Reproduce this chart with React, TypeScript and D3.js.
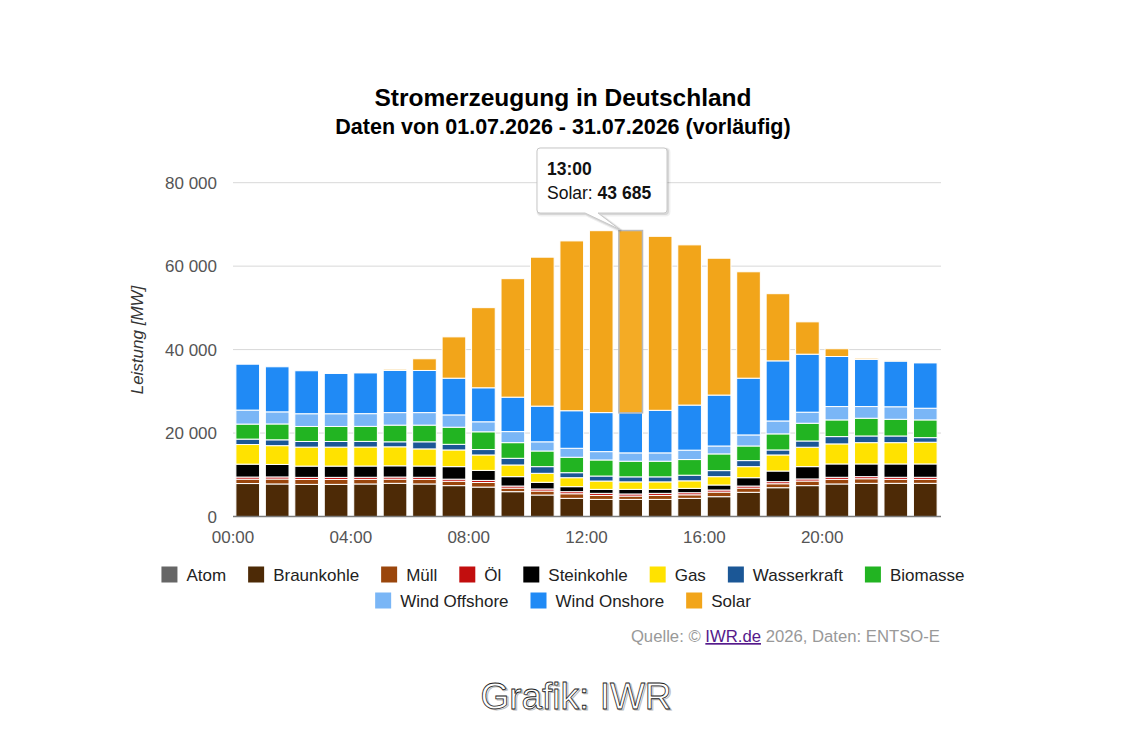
import React from "react";
import * as d3 from "d3";

const hours: number[] = d3.range(0, 24);
const seriesNames: string[] = [
  "Atom", "Braunkohle", "Müll", "Öl", "Steinkohle", "Gas", "Wasserkraft",
  "Biomasse", "Wind Offshore", "Wind Onshore", "Solar",
];
const seriesColors: string[] = [
  "#666666", "#4d2a06", "#9a460c", "#c20e0e", "#000000", "#ffe200", "#1b5796",
  "#22b422", "#7ab6f6", "#208af5", "#f2a51a",
];

const atom = [0,0,0,0,0,0,0,0,0,0,0,0,0,0,0,0,0,0,0,0,0,0,0,0];
const braunkohle = [7900,7800,7700,7700,7800,7950,7800,7400,7050,5950,5150,4350,4100,4100,4100,4350,4750,5800,6900,7400,7800,7950,7950,7950];
const muell = [1050,1180,1180,1180,1100,1000,1100,1050,1100,850,950,1100,950,800,950,850,1100,1000,950,1100,1100,1100,950,950];
const oel = [500,500,500,500,500,500,500,500,500,500,500,500,500,500,500,500,500,500,500,500,500,500,500,500];
const steinkohle = [3100,3000,2700,2700,2700,2700,2700,3000,2400,2250,1600,1200,950,1100,950,1050,1200,2000,2550,2950,3200,3050,3200,3200];
const gas = [4700,4500,4550,4550,4550,4550,4100,4000,3700,2800,2150,2150,2000,1800,1800,1800,2000,2650,3850,4650,4800,5100,5100,5200];
const wasserkraft = [1300,1400,1350,1350,1350,1200,1700,1350,1300,1600,1600,1200,1200,1200,1200,1350,1450,1450,1200,1500,1750,1600,1600,1100];
const biomasse = [3600,3800,3600,3600,3600,4000,4000,4100,4250,3750,3750,3700,3850,3750,3750,3750,4000,3500,3850,4250,4000,4250,4000,4250];
const windOffshore = [3350,2900,3050,3050,3050,3000,3000,2950,2400,2650,2200,2150,2000,2000,2000,2250,1900,2650,3100,2650,3200,2800,3000,2800];
const windOnshore = [11000,10800,10300,9650,9800,10100,10100,8800,8150,8250,8550,9000,9350,9600,10200,10800,12200,13600,14400,13900,12000,11300,10950,10900];
const solar = [0,0,0,0,50,300,2800,9900,19200,28400,35700,40700,43600,43685,41700,38400,32800,25500,16100,7750,1850,300,100,50];

const seriesValues: number[][] = [
  atom, braunkohle, muell, oel, steinkohle, gas, wasserkraft, biomasse,
  windOffshore, windOnshore, solar,
];

const yTicks: number[] = [0, 20000, 40000, 60000, 80000];
const xTickHours: number[] = [0, 4, 8, 12, 16, 20];
const hoveredIndex = 13;
const hoveredSeries = 10;

const titleText = "Stromerzeugung in Deutschland";
const subtitleText = "Daten von 01.07.2026 - 31.07.2026 (vorläufig)";
const yAxisTitle = "Leistung [MW]";

const FONT = "'Liberation Sans', Arial, sans-serif";

const fmt = (v: number) => d3.format(",")(v).replace(/,/g, " ");
const hourLabel = (h: number) => `${String(h).padStart(2, "0")}:00`;

function measure(text: string, size: number): number {
  const c = document.createElement("canvas").getContext("2d");
  if (!c) return text.length * size * 0.5;
  c.font = `${size}px 'Liberation Sans'`;
  return c.measureText(text).width;
}

export default function App() {
  const W = 1130, H = 730;
  const left = 233, right = 940, top = 182.7, bottom = 516.5;

  const x = d3.scaleLinear().domain([0, 24]).range([left, right]);
  const y = d3.scaleLinear().domain([0, 80000]).range([bottom, top]);

  const rows = hours.map((h, i) => {
    const o: Record<string, number> = { hour: h };
    seriesNames.forEach((n, s) => (o[n] = seriesValues[s][i]));
    return o;
  });
  const stacked = d3.stack<Record<string, number>>().keys(seriesNames)(rows);

  const pitch = x(1) - x(0);
  const pad = 2.9;

  // legend layout
  const legFont = 17;
  const items = seriesNames.map((n, i) => ({ name: n, color: seriesColors[i], w: 16 + 9 + measure(n, legFont) }));
  const maxRow = 820;
  const legendRows: typeof items[] = [];
  let cur: typeof items = [];
  let curW = 0;
  items.forEach((it) => {
    const add = (cur.length ? 22 : 0) + it.w;
    if (curW + add > maxRow && cur.length) {
      legendRows.push(cur);
      cur = [it];
      curW = it.w;
    } else {
      cur.push(it);
      curW += add;
    }
  });
  if (cur.length) legendRows.push(cur);
  const legendCenter = 563;

  // tooltip
  const hovTop = y(stacked[hoveredSeries][hoveredIndex][1]);
  const tipX = x(hoveredIndex) + pad + 1;
  const tipY = hovTop - 1;
  const bx0 = 537, bx1 = 667, by0 = 148, by1 = 213, r = 3;
  const tooltipPath = `M${bx0 + r},${by0} L${bx1 - r},${by0} Q${bx1},${by0} ${bx1},${by0 + r} L${bx1},${by1 - r} Q${bx1},${by1} ${bx1 - r},${by1} L598,${by1} L${tipX},${tipY} L585,${by1} L${bx0 + r},${by1} Q${bx0},${by1} ${bx0},${by1 - r} L${bx0},${by0 + r} Q${bx0},${by0} ${bx0 + r},${by0} Z`;

  return (
    <svg width={W} height={H} style={{ position: "absolute", left: 0, top: 0, background: "#fff" }} fontFamily={FONT}>
      <rect x={0} y={0} width={W} height={H} fill="#fff" />
      <text x={563} y={106} textAnchor="middle" fontSize={24.5} fontWeight="bold" fill="#000">{titleText}</text>
      <text x={563} y={134} textAnchor="middle" fontSize={21.5} fontWeight="bold" fill="#000">{subtitleText}</text>

      {/* grid */}
      {yTicks.filter((t) => t > 0).map((t) => (
        <line key={t} x1={left} x2={941} y1={y(t)} y2={y(t)} stroke="#d8d8d8" strokeWidth={1} />
      ))}
      {yTicks.map((t) => (
        <text key={"l" + t} x={217} y={y(t) + 6} textAnchor="end" fontSize={17} fill="#555">{fmt(t)}</text>
      ))}
      <text transform={`translate(143,340) rotate(-90)`} textAnchor="middle" fontSize={17} fontStyle="italic" fill="#333">{yAxisTitle}</text>

      {/* bars */}
      {stacked.map((layer, s) => (
        <g key={seriesNames[s]}>
          {layer.map((d, i) => {
            const h = y(d[0]) - y(d[1]);
            if (h <= 0) return null;
            const isHover = s === hoveredSeries && i === hoveredIndex;
            return (
              <rect
                key={i}
                x={x(i) + pad}
                y={y(d[1])}
                width={pitch - 2 * pad}
                height={h}
                fill={isHover ? "#f4ab25" : seriesColors[s]}
                stroke={isHover ? "#b8b8b8" : "#fff"}
                strokeWidth={isHover ? 1.5 : 1}
              />
            );
          })}
        </g>
      ))}

      {/* x axis */}
      <line x1={left} x2={941} y1={bottom} y2={bottom} stroke="#7a7a7a" strokeWidth={1.5} />
      {xTickHours.map((h) => (
        <text key={h} x={x(h)} y={543} textAnchor="middle" fontSize={17} fill="#555">{hourLabel(h)}</text>
      ))}

      {/* legend */}
      {legendRows.map((row, ri) => {
        const total = row.reduce((a, it) => a + it.w, 0) + 22 * (row.length - 1);
        let cx = legendCenter - total / 2;
        const cy = 574.5 + ri * 26;
        return (
          <g key={ri}>
            {row.map((it) => {
              const gx = cx;
              cx += it.w + 22;
              return (
                <g key={it.name}>
                  <rect x={gx} y={cy - 8} width={16} height={16} fill={it.color} />
                  <text x={gx + 25} y={cy + 6} fontSize={legFont} fill="#222">{it.name}</text>
                </g>
              );
            })}
          </g>
        );
      })}

      {/* source */}
      <text x={940} y={642} textAnchor="end" fontSize={16.7} fill="#999">
        Quelle: ©{" "}
        <tspan fill="#551a8b" textDecoration="underline">IWR.de</tspan>
        {" "}2026, Daten: ENTSO-E
      </text>

      {/* tooltip */}
      <g>
        <path d={tooltipPath} transform="translate(1.5,1.5)" fill="none" stroke="rgba(0,0,0,0.06)" strokeWidth={4} />
        <path d={tooltipPath} transform="translate(1,1)" fill="none" stroke="rgba(0,0,0,0.1)" strokeWidth={2} />
        <path d={tooltipPath} fill="rgba(255,255,255,0.97)" stroke="#c8c8c8" strokeWidth={1} />
        <text x={547} y={175} fontSize={17.5} fontWeight="bold" fill="#111">{hourLabel(hours[hoveredIndex])}</text>
        <text x={547} y={199} fontSize={17.5} fill="#111">
          {seriesNames[hoveredSeries]}: <tspan fontWeight="bold">{fmt(seriesValues[hoveredSeries][hoveredIndex])}</tspan>
        </text>
      </g>

      {/* watermark */}
      <text x={577.5} y={710} textAnchor="middle" fontSize={37} fill="none" stroke="#bbb" strokeWidth={1}>Grafik: IWR</text>
      <text x={576} y={709} textAnchor="middle" fontSize={37} fill="#fff" stroke="#222" strokeWidth={0.8}>Grafik: IWR</text>
    </svg>
  );
}
